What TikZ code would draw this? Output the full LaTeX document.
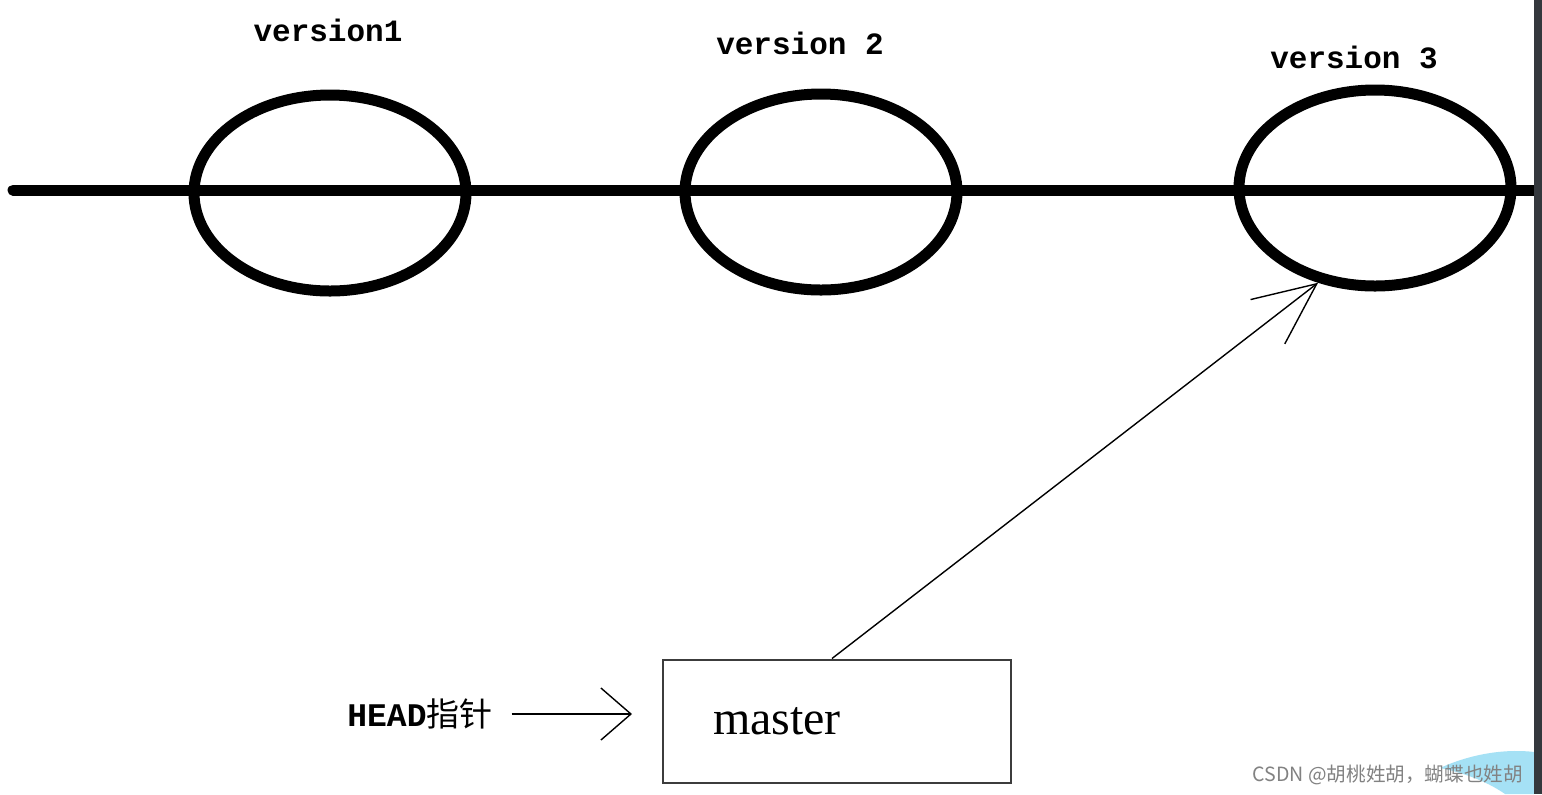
\documentclass[tikz,border=0pt]{standalone}
\usepackage{fontspec}
\setmainfont{Liberation Serif}
\setmonofont{Liberation Mono}
\newfontfamily\cjk{Noto Sans CJK SC}
\usetikzlibrary{shapes.geometric,arrows.meta}

\begin{document}
\begin{tikzpicture}[x=0.5pt,y=-0.5pt,
  commit/.style={draw,ellipse,line width=5.5pt,minimum width=136pt,minimum height=98pt,inner sep=0pt},
  vlabel/.style={font=\ttfamily\bfseries\fontsize{15.5}{18}\selectfont},
  branchbox/.style={draw=boxcol,line width=1pt,minimum height=61.5pt,text width=124pt,inner xsep=25pt,align=left,font=\fontsize{24}{28}\selectfont}
]
% Define colours
\definecolor{bandcol}{RGB}{52,56,61}    % dark side bar
\definecolor{boxcol}{RGB}{60,60,60}     % box outline
\definecolor{markcol}{RGB}{130,130,130} % watermark
\definecolor{wavecol}{RGB}{165,225,245} % light blue swoosh

% Canvas
\useasboundingbox (0,0) rectangle (1542,794);
\fill[white] (0,0) rectangle (1542,794);

% Timeline
\coordinate (start) at (13,190);
\coordinate (stop) at (1534,190);
\draw[line width=5.5pt,line cap=round] (start) -- (stop);

% Commits
\node[commit] (v1) at (330,193) {};
\node[commit] (v2) at (821,192) {};
\node[commit] (v3) at (1375,188) {};

\node[vlabel] (l1) at (328,30) {version1};
\node[vlabel] (l2) at (800,43) {version 2};
\node[vlabel] (l3) at (1354,57) {version 3};

% Branch and HEAD
\node[branchbox] (master) at (837,721) {master};
\node[font=\fontsize{16.5}{20}\selectfont] (head) at (420,714) {\texttt{\bfseries HEAD}{\cjk 指针}};

\draw[line width=0.7pt,-{Straight Barb[length=15pt,width=26pt]},shorten <=6pt,shorten >=15pt] (head.east) -- (head.east -| master.west);
\draw[line width=0.7pt,-{Straight Barb[length=31pt,width=28pt]}] ([xshift=-2.5pt]master.north) -- (v3.239);

% Watermark
\fill[wavecol] (1440,768) .. controls (1475,752) and (1510,749) .. (1534,752) -- (1534,794) -- (1505,794) .. controls (1485,780) and (1460,772) .. (1440,768) -- cycle;
\node[text=markcol,font=\cjk\fontsize{9.8}{12}\selectfont,anchor=east] (mark) at (1530,775) {CSDN @胡桃姓胡，蝴蝶也姓胡};

% Side bar
\fill[bandcol] (1534,0) rectangle (1542,794);
\end{tikzpicture}
\end{document}
